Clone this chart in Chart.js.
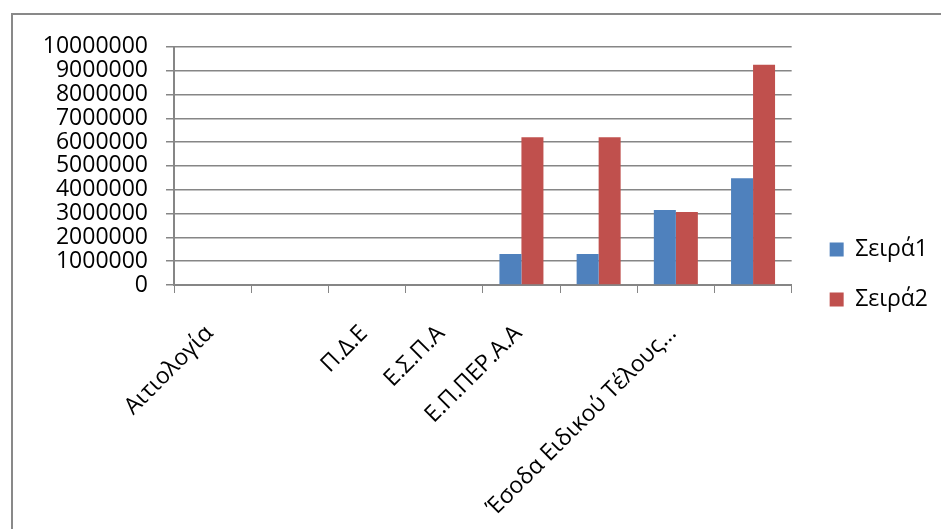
<!DOCTYPE html>
<html>
<head>
<meta charset="utf-8">
<script src="https://cdn.jsdelivr.net/npm/chart.js@4/dist/chart.umd.min.js"></script>
<style>
  body { margin:0; background:#fff; overflow:hidden; }
  #box { position:absolute; left:11px; top:13px; width:930px; height:530px; border:2px solid #898989; }
</style>
</head>
<body>
<div id="box"><canvas id="chart"></canvas></div>
<script>
const categories = ["Αιτιολογία", "", "Π.Δ.Ε", "Ε.Σ.Π.Α", "Ε.Π.ΠΕΡ.Α.Α", "", "Έσοδα Ειδικού Τέλους…", ""];
const seira1 = [0, 0, 0, 0, 1300000, 1300000, 3150000, 4480000];
const seira2 = [0, 0, 0, 0, 6200000, 6200000, 3060000, 9250000];
const yMax = 10000000;
const yStep = 1000000;

document.addEventListener("DOMContentLoaded", function () {
  const font = {family: "'Open Sans', 'DejaVu Sans', sans-serif", size: 23};
  const axisGray = "#868686";

  // nudge the legend a bit right / up like the excel layout
  const legendShift = {
    id: "legendShift",
    afterLayout(chart) {
      chart.legend.left += 11; chart.legend.right += 11;
      chart.legend.top -= 20; chart.legend.bottom -= 20;
    }
  };

  new Chart(document.getElementById("chart"), {
    type: "bar",
    data: {labels: categories, datasets: [
      {label: "Σειρά1", data: seira1, backgroundColor: "#4F81BD", borderWidth: 0},
      {label: "Σειρά2", data: seira2, backgroundColor: "#C0504D", borderWidth: 0}
    ]},
    options: {
      responsive: true, maintainAspectRatio: false, animation: false,
      layout: {padding: {top: 29, right: 16, left: 0, bottom: 0}},
      datasets: {bar: {barPercentage: 1, categoryPercentage: 0.57}},
      plugins: {
        tooltip: {enabled: false},
        legend: {position: "right", labels: {color: "#000", font: font, boxWidth: 14, boxHeight: 14, padding: 27}}
      },
      scales: {
        x: {
          grid: {display: true, drawOnChartArea: false, drawTicks: true, tickLength: 8, color: axisGray, offset: true},
          border: {color: axisGray, width: 2},
          ticks: {color: "#000", font: font, autoSkip: false, maxRotation: 45, minRotation: 45, padding: 27, labelOffset: -3},
          afterFit(scale) { scale.height = 260; }
        },
        y: {
          min: 0, max: yMax,
          grid: {color: axisGray, lineWidth: 1.5, tickLength: 8},
          border: {color: axisGray, width: 2},
          ticks: {color: "#000", font: font, stepSize: yStep, autoSkip: false, padding: 18, callback: v => String(v)},
          afterFit(scale) { scale.width = 161; }
        }
      }
    },
    plugins: [legendShift]
  });
});
</script>
</body>
</html>
